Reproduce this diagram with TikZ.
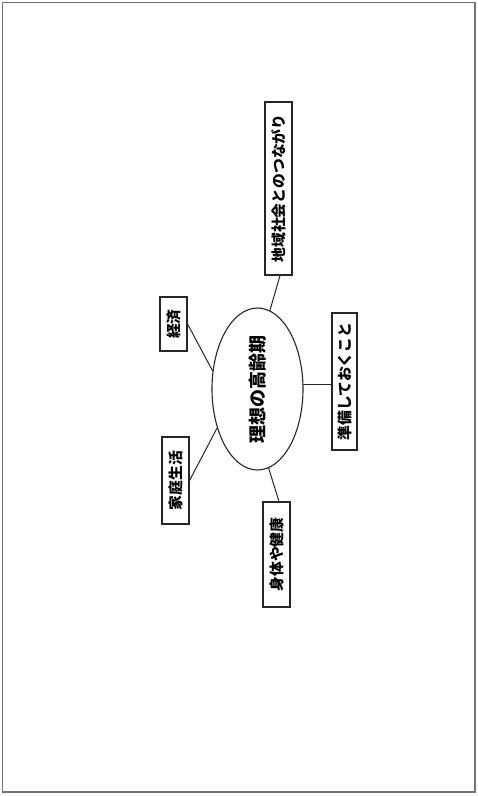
\documentclass[tikz,border=0pt]{standalone}
\usepackage{fontspec}
\newfontfamily\jp{Noto Sans CJK JP}
\usetikzlibrary{shapes.geometric}
\tikzset{
  box/.style={draw=black!85, line width=1.1pt, rectangle, inner sep=0pt, fill=white,
    font=\jp\bfseries\fontsize{14.8}{15}\selectfont},
  link/.style={draw=black!85, line width=1pt},
}
\begin{document}
\begin{tikzpicture}[x=1pt,y=-1pt]
\useasboundingbox (0,0) rectangle (478,796);
\draw[black!55, line width=1.2pt] (2.5,2.5) rectangle (475,792);
\node[ellipse, draw=black!85, line width=1.1pt, minimum width=91pt, minimum height=162pt, inner sep=0pt,
  font=\jp\bfseries\fontsize{18}{19}\selectfont] (ell) at (257.5,389) {\rotatebox{90}{理想の高齢期}};
\node[box, minimum width=27pt, minimum height=173pt] (chiiki) at (278.5,188.5) {\rotatebox{90}{地域社会とのつながり}};
\node[box, minimum width=25pt, minimum height=137pt] (junbi) at (344.5,381.5) {\rotatebox{90}{準備しておくこと}};
\node[box, minimum width=27pt, minimum height=105pt] (shintai) at (276.5,554.5) {\rotatebox{90}{身体や健康}};
\node[box, minimum width=27pt, minimum height=87pt] (katei) at (175.5,480.5) {\rotatebox{90}{家庭生活}};
\node[box, minimum width=27pt, minimum height=54pt] (keizai) at (173.5,324) {\rotatebox{90}{経済}};
\draw[link] ([xshift=1.5pt]chiiki.south) -- (ell.81);
\draw[link] (ell.6) -- (ell.6 -| junbi.west);
\draw[link] ([xshift=2.5pt]shintai.north) -- (ell.-82);
\draw[link] (katei.east) -- (ell.224);
\draw[link] (keizai.east) -- (ell.158);
\end{tikzpicture}
\end{document}
